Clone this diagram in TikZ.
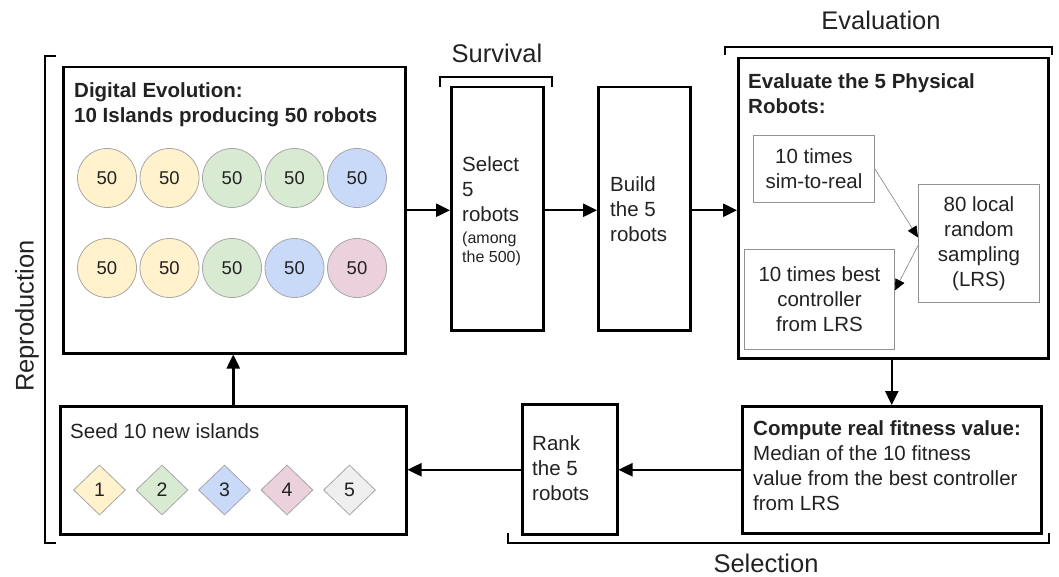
\documentclass[tikz,border=0pt]{standalone}
\usepackage{fontspec}
\setmainfont{Liberation Sans}
\usetikzlibrary{arrows.meta}
\usetikzlibrary{shapes.geometric}

\definecolor{txt}{HTML}{222222}
\definecolor{isyellow}{HTML}{FFF2CC}
\definecolor{isgreen}{HTML}{D9EAD3}
\definecolor{isblue}{HTML}{C9DAF8}
\definecolor{ispink}{HTML}{EAD1DC}
\definecolor{isgray}{HTML}{EFEFEF}

\newcommand{\bodysize}{\fontsize{20.5}{25}\selectfont}
\newcommand{\smallsize}{\fontsize{16}{19}\selectfont}

\tikzset{
 box/.style={draw, line width=2.5pt, inner sep=0pt, anchor=north west},
 subbox/.style={draw=gray!85, line width=0.9pt, anchor=north west, align=center,
   inner sep=0pt, text=txt, font=\bodysize},
 % multi-line text is placed by the baseline of its last line
 body/.style={anchor=base west, align=left, inner sep=0pt, text=txt, font=\bodysize},
 island/.style={circle, draw=gray!70, line width=0.8pt, minimum size=59pt,
   inner sep=0pt, text=txt, font=\fontsize{18.5}{20}\selectfont},
 seedmark/.style={diamond, draw=gray!70, line width=0.8pt, minimum width=52pt,
   minimum height=50pt, inner sep=0pt, text=txt, font=\fontsize{19.5}{20}\selectfont},
 flow/.style={line width=2.5pt, -{Triangle[length=14pt,width=13pt]}},
 subflow/.style={draw=gray, line width=0.6pt,
   -{Triangle[length=11pt,width=10pt,color=black,fill=black]}},
 bracket/.style={line width=2.5pt},
 phase/.style={anchor=base, inner sep=0pt, text=txt, font=\fontsize{25.5}{30}\selectfont},
}

\begin{document}
\begin{tikzpicture}[x=1pt, y=-1pt]
  \useasboundingbox (0,0) rectangle (1059,577);

  % digital evolution
  \node[box, minimum width=342pt, minimum height=286pt] (dig) at (62,66) {};
  \node[body] (digtitle) at (74,123)
    {\bfseries Digital Evolution:\\ \bfseries 10 Islands producing 50 robots};
  \foreach \c [count=\i from 0] in {isyellow,isyellow,isgreen,isgreen,isblue}
    \node[island, fill=\c] (top\i) at (107+62.5*\i,178) {50};
  \foreach \c [count=\i from 0] in {isyellow,isyellow,isgreen,isblue,ispink}
    \node[island, fill=\c] (bot\i) at (107+62.5*\i,268) {50};

  % seeding
  \node[box, minimum width=346pt, minimum height=128pt] (seed) at (59,405) {};
  \node[body] (seedtext) at (70,438) {Seed 10 new islands};
  \foreach \c [count=\i] in {isyellow,isgreen,isblue,ispink,isgray}
    \node[seedmark, fill=\c] (d\i) at (37+62.5*\i,490) {\i};

  % survival and building
  \node[box, minimum width=92pt, minimum height=243pt] (sel) at (450,86) {};
  \node[body] (seltext) at (462,222) {Select\\5\\robots};
  \node[body, font=\smallsize] (selnote) at (462,262) {(among\\the 500)};
  \node[box, minimum width=92pt, minimum height=243pt] (build) at (597,86) {};
  \node[body] (buildtext) at (610,242) {Build\\the 5\\robots};

  % evaluation
  \node[box, minimum width=310pt, minimum height=300pt] (eval) at (737,57) {};
  \node[body] (evaltitle) at (748,114) {\bfseries Evaluate the 5 Physical\\ \bfseries Robots:};
  \node[subbox, minimum width=121pt, minimum height=67pt] (sim) at (753,135)
    {10 times\\sim-to-real};
  \node[subbox, minimum width=150pt, minimum height=100pt] (best) at (744,249)
    {10 times best\\controller\\from LRS};
  \node[subbox, minimum width=121pt, minimum height=118pt] (lrs) at (918,184)
    {80 local\\random\\sampling\\(LRS)};
  \draw[subflow] (sim.east) -- ([yshift=6pt]lrs.west);
  \draw[subflow] ([yshift=-2pt]lrs.west) -- ([yshift=9pt]best.east);

  % selection
  \node[box, minimum width=299pt, minimum height=127pt] (comp) at (741,405) {};
  \node[body] (comptext) at (753,510)
    {\bfseries Compute real fitness value:\\Median of the 10 fitness\\value from the best controller\\from LRS};
  \node[box, minimum width=95pt, minimum height=130pt] (rank) at (521,403) {};
  \node[body] (ranktext) at (532,500) {Rank\\the 5\\robots};

  % main loop
  \draw[flow] (dig.east) -- (dig.east -| sel.west);
  \draw[flow] (sel.east |- dig.east) -- (dig.east -| build.west);
  \draw[flow] (build.east |- dig.east) -- (dig.east -| eval.west);
  \draw[flow] (comp.north |- eval.south) -- (comp.north);
  \draw[flow] (comp.west) -- (comp.west -| rank.east);
  \draw[flow] (rank.west |- comp.west) -- (comp.west -| seed.east);
  \draw[flow] (seed.north) -- (seed.north |- dig.south);

  % phase brackets
  \draw[bracket] (56,56) -- (45,56) -- (45,543) -- (56,543);
  \node[phase, rotate=90, anchor=center] (repro) at (27,316) {Reproduction};
  \draw[bracket] (440,87) -- (440,77) -- (552,77) -- (552,87);
  \node[phase] (surv) at (497,63) {Survival};
  \draw[bracket] (725,55) -- (725,47) -- (1052,47) -- (1052,55);
  \node[phase] (evallabel) at (881,30) {Evaluation};
  \draw[bracket] (508,533) -- (508,543) -- (1049,543) -- (1049,533);
  \node[phase] (sellabel) at (766,572) {Selection};
\end{tikzpicture}
\end{document}
